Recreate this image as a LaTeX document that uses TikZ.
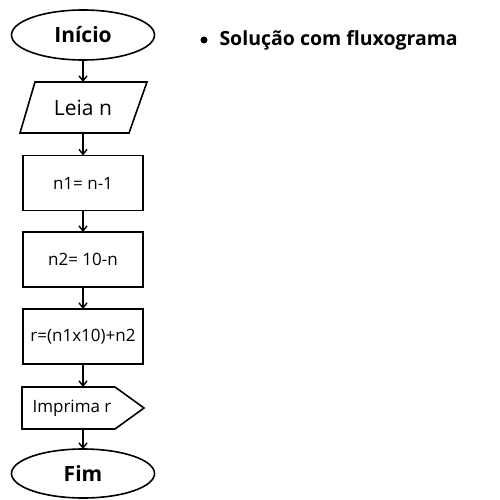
\documentclass[tikz,border=0pt]{standalone}
\usepackage{fontspec}
\setmainfont{Open Sans}
\usetikzlibrary{shapes.geometric,shapes.symbols,arrows.meta}
\begin{document}
\begin{tikzpicture}[x=1pt,y=-1pt,
  every node/.style={inner sep=0pt,outer sep=0pt},
  shp/.style={draw,line width=1.6pt},
  arr/.style={-{Straight Barb[length=5pt,width=8pt]},line width=1.4pt},
  txt/.style={font=\fontsize{17}{20}\selectfont},
  ttl/.style={font=\fontsize{21}{24}\selectfont\bfseries}]
\useasboundingbox (0,0) rectangle (500,500);
% Inicio
\node[shp,ellipse,minimum width=143pt,minimum height=50pt,ttl] (ini) at (83,35) {Início};
% Leia n
\draw[shp] (35,82) -- (147,82) -- (129,133) -- (20,133) -- cycle;
\node[font=\fontsize{21}{24}\selectfont] (leia) at (83,107.5) {Leia n};
\coordinate (leiaT) at (83,82);
\coordinate (leiaB) at (83,133);
% boxes
\node[shp,minimum width=120pt,minimum height=55pt,txt] (n1) at (83,183) {n1= n-1};
\node[shp,minimum width=120pt,minimum height=55pt,txt] (n2) at (83,259.5) {n2= 10-n};
\node[shp,minimum width=120pt,minimum height=55pt,txt] (r) at (83,336.5) {r=(n1x10)+n2};
% Imprima r
\draw[shp] (22,387) -- (115,387) -- (144,408) -- (115,429) -- (22,429) -- cycle;
\node[txt] (imp) at (72,408) {Imprima r};
\coordinate (impT) at (83,387);
\coordinate (impB) at (83,429);
% Fim
\node[shp,ellipse,minimum width=143pt,minimum height=49pt,ttl] (fim) at (83,473.5) {Fim};
% arrows
\draw[arr] (ini.south) -- (leiaT);
\draw[arr] (leiaB) -- (n1.north);
\draw[arr] (n1.south) -- (n2.north);
\draw[arr] (n2.south) -- (r.north);
\draw[arr] (r.south) -- (impT);
\draw[arr] (impB) -- (fim.north);
% bullet
\node[circle,fill,minimum size=7pt] (bul) at (204,40) {};
\node[anchor=west,font=\fontsize{19.5}{22}\selectfont\bfseries] (sol) at (219.5,40) {Solução com fluxograma};
\end{tikzpicture}
\end{document}
